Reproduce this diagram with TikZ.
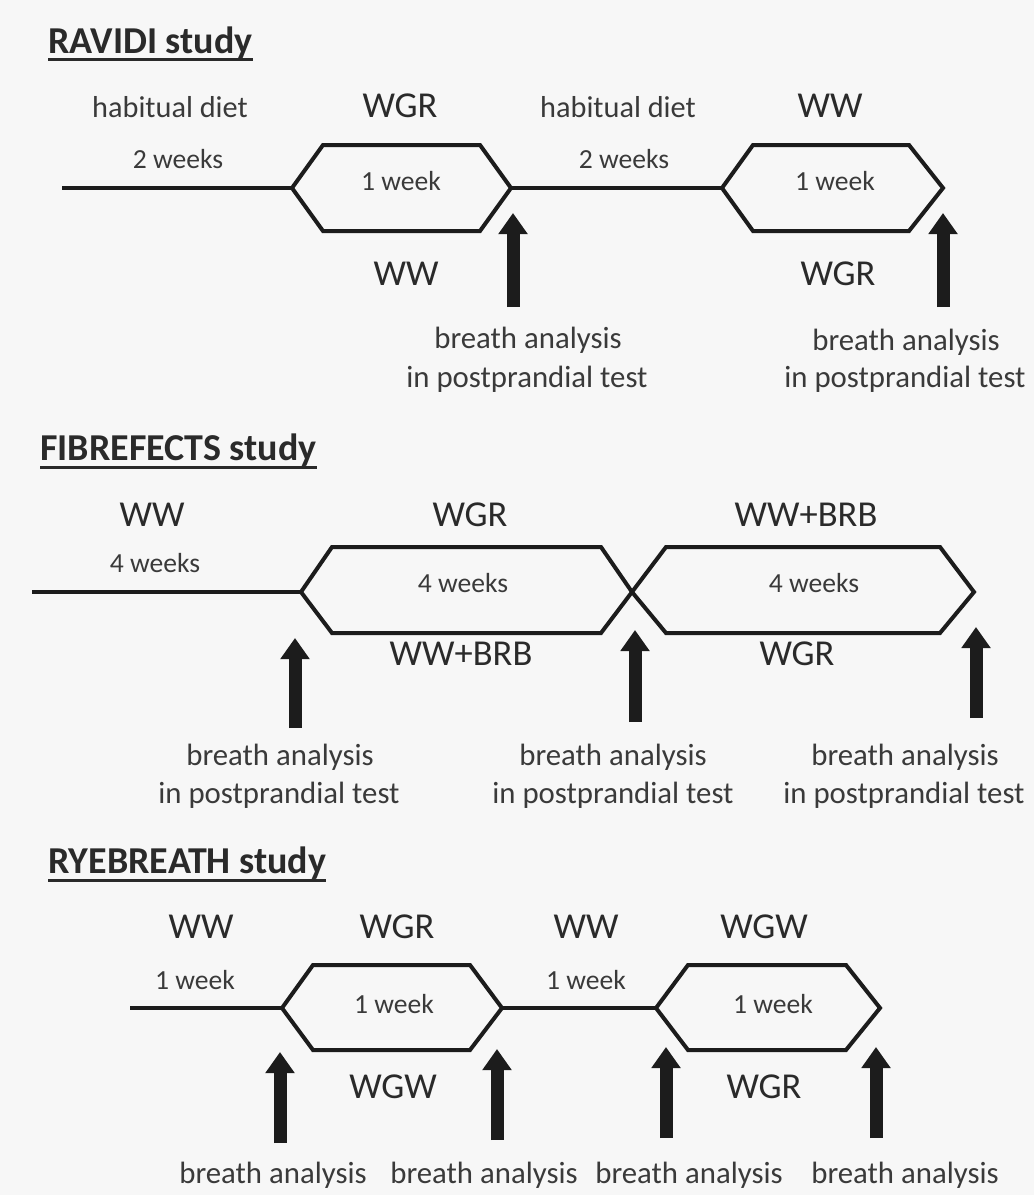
\documentclass[tikz,border=0pt]{standalone}
\usepackage{fontspec}
\setmainfont{Carlito}
\usetikzlibrary{arrows.meta}
\definecolor{bgc}{HTML}{F7F7F7}
\definecolor{ink}{HTML}{1C1C1C}
\definecolor{txtA}{HTML}{2A2A2A}
\definecolor{txtB}{HTML}{3A3A3A}
\begin{document}
\begin{tikzpicture}[x=1pt,y=-1pt,
  tline/.style={draw=ink,line width=4pt,line join=miter},
  uparrow/.style={draw=ink,line width=13pt,-{Triangle[width=28pt,length=21pt]}},
  ttl/.style={inner sep=0pt,anchor=base west,text=txtA,font=\fontsize{38}{44}\selectfont\bfseries},
  big/.style={inner sep=0pt,anchor=base,text=txtA,font=\fontsize{36.5}{42}\selectfont},
  mid/.style={inner sep=0pt,anchor=base,text=txtB,font=\fontsize{30.3}{36}\selectfont},
  small/.style={inner sep=0pt,anchor=base,text=txtB,font=\fontsize{27.6}{32}\selectfont},
  ba/.style={inner sep=0pt,anchor=base,text=txtB,font=\fontsize{30.8}{38}\selectfont},
  uline/.style={draw=txtA,line width=3pt}]
\fill[bgc] (0,0) rectangle (1034,1195);
\useasboundingbox (0,0) rectangle (1034,1195);

% ================= RAVIDI =================
\node[ttl] (t1) at (48,53) {RAVIDI study};
\draw[uline] ([yshift=-6pt]t1.base west) -- ([yshift=-6pt]t1.base east);

\coordinate (r0) at (62,188);
\coordinate (r1l) at (292,188);
\coordinate (r1tl) at (323,145);
\coordinate (r1tr) at (480,145);
\coordinate (r1r) at (511,188);
\coordinate (r1br) at (480,231);
\coordinate (r1bl) at (323,231);
\coordinate (r2l) at (722,188);
\coordinate (r2tl) at (753,145);
\coordinate (r2tr) at (909,145);
\coordinate (r2r) at (943,188);
\coordinate (r2br) at (909,231);
\coordinate (r2bl) at (753,231);
\draw[tline] (r0) -- (r1l);
\draw[tline] (r1l) -- (r1tl) -- (r1tr) -- (r1r) -- (r1br) -- (r1bl) -- cycle;
\draw[tline] (r1r) -- (r2l);
\draw[tline] (r2l) -- (r2tl) -- (r2tr) -- (r2r) -- (r2br) -- (r2bl) -- cycle;

\node[mid] (rhd1) at (170,117) {habitual diet};
\node[big] (rtop1) at (400,117) {WGR};
\node[mid] (rhd2) at (618,117) {habitual diet};
\node[big] (rtop2) at (830,117) {WW};
\node[small] (rw1) at (178,168) {2 weeks};
\node[small] (rw2) at (624,168) {2 weeks};
\node[small] (rin1) at (401,190) {1 week};
\node[small] (rin2) at (835,190) {1 week};
\node[big] (rbot1) at (406,285) {WW};
\node[big] (rbot2) at (838,285) {WGR};

\coordinate (ra1b) at (513,307);
\coordinate (ra1t) at (513,213);
\coordinate (ra2b) at (943,307);
\coordinate (ra2t) at (943,213);
\draw[uparrow] (ra1b) -- (ra1t);
\draw[uparrow] (ra2b) -- (ra2t);
\node[ba] (rb1) at (528,348) {breath analysis};
\node[ba] (rp1) at (527,387) {in postprandial test};
\node[ba] (rb2) at (906,350) {breath analysis};
\node[ba] (rp2) at (905,387) {in postprandial test};

% ================= FIBREFECTS =================
\node[ttl] (t2) at (40,460) {FIBREFECTS study};
\draw[uline] ([yshift=-7pt]t2.base west) -- ([yshift=-7pt]t2.base east);

\coordinate (f0) at (32,592);
\coordinate (f1l) at (301,592);
\coordinate (f1tl) at (332,547);
\coordinate (f1tr) at (601,547);
\coordinate (f1r) at (632,592);
\coordinate (f1br) at (601,633);
\coordinate (f1bl) at (332,633);
\coordinate (f2l) at (632,592);
\coordinate (f2tl) at (666,547);
\coordinate (f2tr) at (940,547);
\coordinate (f2r) at (974,592);
\coordinate (f2br) at (940,633);
\coordinate (f2bl) at (666,633);
\draw[tline] (f0) -- (f1l);
\draw[tline] (f1l) -- (f1tl) -- (f1tr) -- (f1r) -- (f1br) -- (f1bl) -- cycle;
\draw[tline] (f2l) -- (f2tl) -- (f2tr) -- (f2r) -- (f2br) -- (f2bl) -- cycle;

\node[big] (ftop0) at (152,526) {WW};
\node[big] (ftop1) at (470,526) {WGR};
\node[big] (ftop2) at (806,526) {WW+BRB};
\node[small] (fw0) at (155,572) {4 weeks};
\node[small] (fin1) at (463,592) {4 weeks};
\node[small] (fin2) at (814,592) {4 weeks};
\node[big] (fbot1) at (461,665) {WW+BRB};
\node[big] (fbot2) at (797,665) {WGR};

\coordinate (fa1b) at (295,728);
\coordinate (fa1t) at (295,638);
\coordinate (fa2b) at (635,722);
\coordinate (fa2t) at (635,630);
\coordinate (fa3b) at (976,718);
\coordinate (fa3t) at (976,627);
\draw[uparrow] (fa1b) -- (fa1t);
\draw[uparrow] (fa2b) -- (fa2t);
\draw[uparrow] (fa3b) -- (fa3t);
\node[ba] (fb1) at (280,765) {breath analysis};
\node[ba] (fp1) at (279,803) {in postprandial test};
\node[ba] (fb2) at (613,765) {breath analysis};
\node[ba] (fp2) at (613,803) {in postprandial test};
\node[ba] (fb3) at (905,765) {breath analysis};
\node[ba] (fp3) at (904,803) {in postprandial test};

% ================= RYEBREATH =================
\node[ttl] (t3) at (48,873) {RYEBREATH study};
\draw[uline] ([yshift=-7pt]t3.base west) -- ([yshift=-7pt]t3.base east);

\coordinate (y0) at (130,1008);
\coordinate (y1l) at (282,1008);
\coordinate (y1tl) at (313,965);
\coordinate (y1tr) at (470,965);
\coordinate (y1r) at (502,1008);
\coordinate (y1br) at (470,1050);
\coordinate (y1bl) at (313,1050);
\coordinate (y2l) at (656,1008);
\coordinate (y2tl) at (688,965);
\coordinate (y2tr) at (846,965);
\coordinate (y2r) at (880,1008);
\coordinate (y2br) at (846,1050);
\coordinate (y2bl) at (688,1050);
\draw[tline] (y0) -- (y1l);
\draw[tline] (y1l) -- (y1tl) -- (y1tr) -- (y1r) -- (y1br) -- (y1bl) -- cycle;
\draw[tline] (y1r) -- (y2l);
\draw[tline] (y2l) -- (y2tl) -- (y2tr) -- (y2r) -- (y2br) -- (y2bl) -- cycle;

\node[big] (ytop0) at (201,938) {WW};
\node[big] (ytop1) at (397,938) {WGR};
\node[big] (ytop2) at (586,938) {WW};
\node[big] (ytop3) at (764,938) {WGW};
\node[small] (yw0) at (195,989) {1 week};
\node[small] (yw2) at (586,989) {1 week};
\node[small] (yin1) at (394,1013) {1 week};
\node[small] (yin2) at (773,1013) {1 week};
\node[big] (ybot1) at (393,1098) {WGW};
\node[big] (ybot2) at (764,1098) {WGR};

\coordinate (ya1b) at (280,1143);
\coordinate (ya1t) at (280,1052);
\coordinate (ya2b) at (497,1140);
\coordinate (ya2t) at (497,1049);
\coordinate (ya3b) at (666,1138);
\coordinate (ya3t) at (666,1047);
\coordinate (ya4b) at (876,1138);
\coordinate (ya4t) at (876,1047);
\draw[uparrow] (ya1b) -- (ya1t);
\draw[uparrow] (ya2b) -- (ya2t);
\draw[uparrow] (ya3b) -- (ya3t);
\draw[uparrow] (ya4b) -- (ya4t);
\node[ba] (yb1) at (273,1183) {breath analysis};
\node[ba] (yb2) at (484,1183) {breath analysis};
\node[ba] (yb3) at (689,1183) {breath analysis};
\node[ba] (yb4) at (905,1183) {breath analysis};
\end{tikzpicture}
\end{document}
